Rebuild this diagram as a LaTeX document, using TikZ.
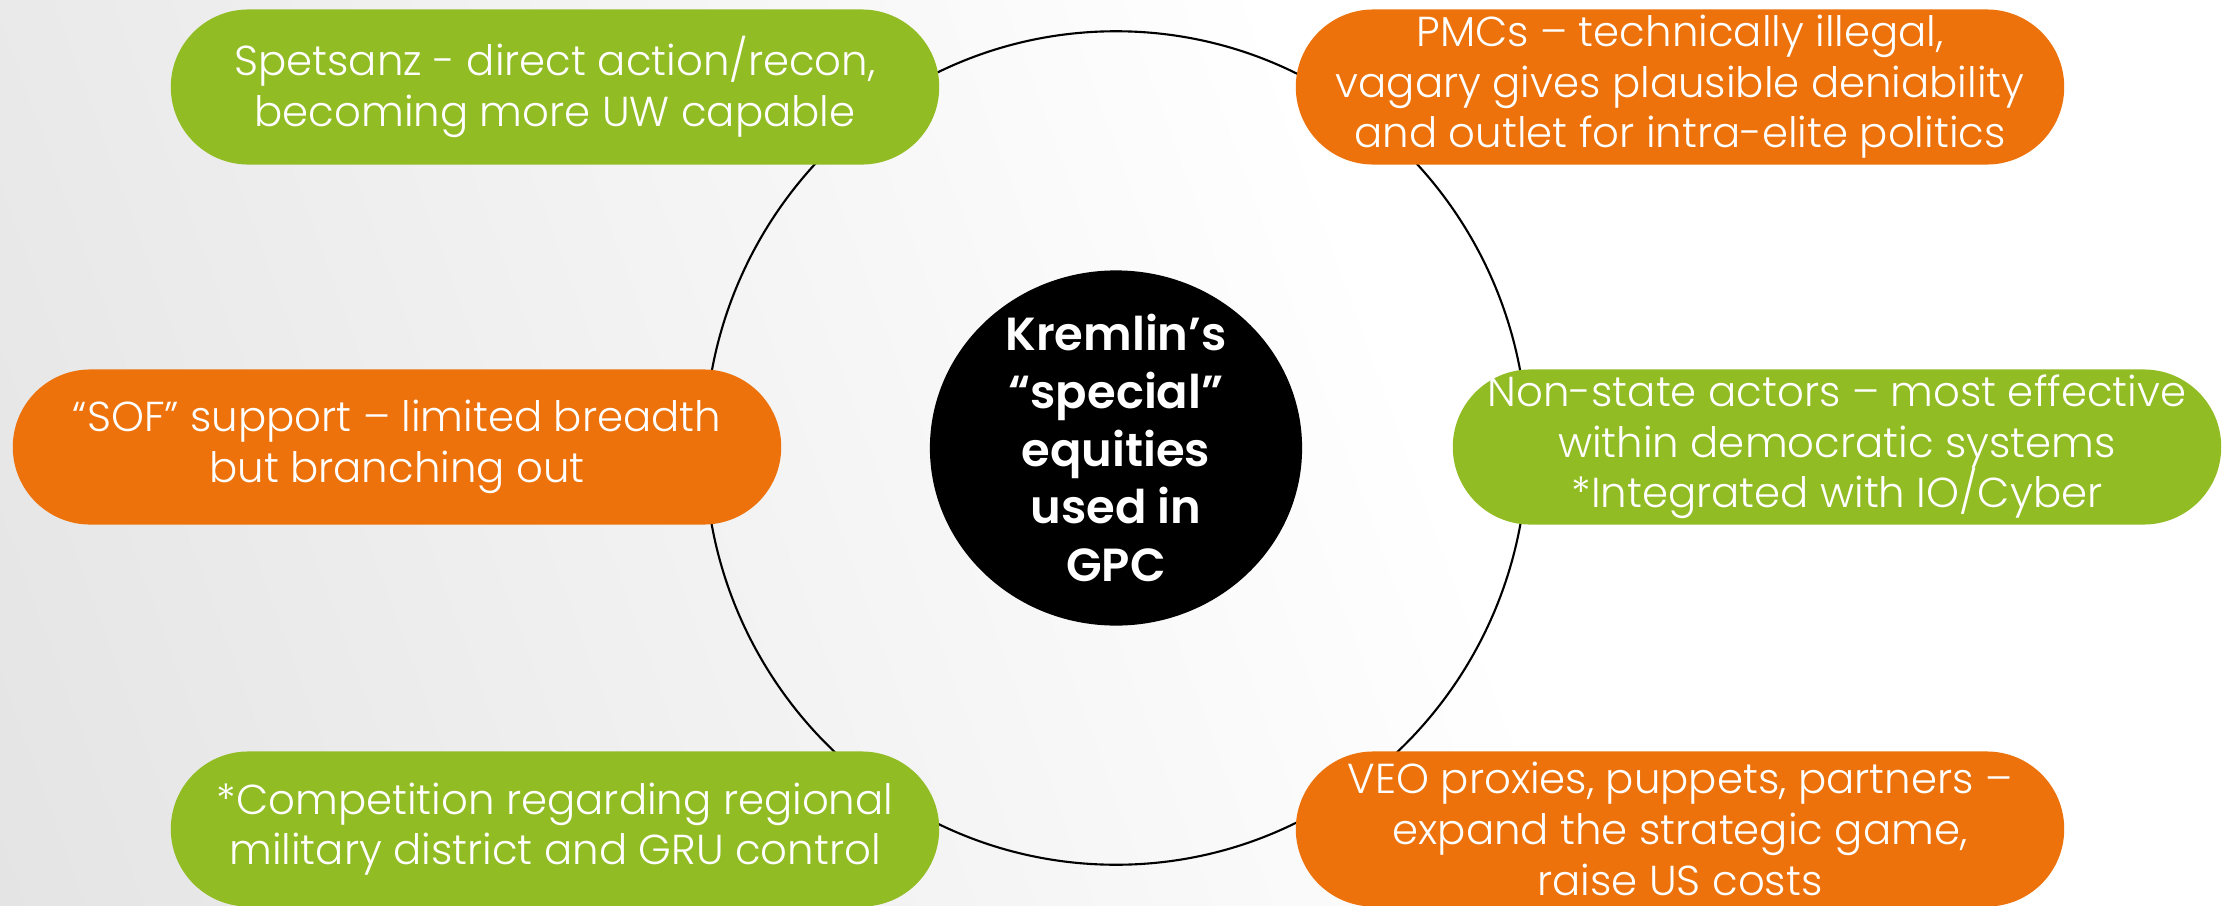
\documentclass[tikz,border=0pt]{standalone}
\usepackage{fontspec}
\setmainfont{Poppins}[UprightFont=* Light, BoldFont=* SemiBold]
\usetikzlibrary{shapes.geometric}
\definecolor{leafgreen}{RGB}{146,188,36}
\definecolor{rustorange}{RGB}{237,114,11}
\definecolor{mistgrey}{RGB}{212,212,212}
\begin{document}
\begin{tikzpicture}[x=0.01cm, y=-0.01cm,
    pill/.style={rectangle, rounded corners=0.775cm, minimum width=7.68cm,
      minimum height=1.55cm, inner sep=0pt, text=white, align=center,
      font=\fontsize{11.9}{14.4}\selectfont},
    greenpill/.style={pill, fill=leafgreen},
    orangepill/.style={pill, fill=rustorange},
    ring/.style={ellipse, draw, semithick, minimum width=8.22cm, minimum height=8.33cm},
    disc/.style={ellipse, fill=black, minimum width=3.72cm, minimum height=3.55cm},
    disctext/.style={text=white, align=center, inner sep=0pt,
      font=\bfseries\fontsize{13.2}{16.4}\selectfont}]
  \useasboundingbox (0,0) rectangle (2233,906);
  \begin{scope}
    \clip (0,0) rectangle (2233,906);
    \fill[white] (0,0) rectangle (2233,906);
    \shade[left color=mistgrey, right color=white,
      transform canvas={rotate around={20:(1116,453)}}] (-984,-1100) rectangle (1416,2000);
  \end{scope}

  \node[ring] (circuit) at (1116,448) {};
  \node[disc] (kremlin) at (1116,448) {};
  \node[disctext] (kremlinlabel) at (kremlin) {Kremlin’s\\“special”\\equities\\used in\\GPC};

  \node[greenpill] (spetsnaz) at (555,87) {Spetsanz - direct action/recon,\\becoming more UW capable};
  \node[orangepill] (pmc) at (1680,87) {PMCs – technically illegal,\\vagary gives plausible deniability\\and outlet for intra-elite politics};
  \node[orangepill] (sof) at (397,447) {“SOF” support – limited breadth\\but branching out};
  \node[greenpill] (nonstate) at (1837,447) {Non-state actors – most effective\\within democratic systems\\*Integrated with IO/Cyber};
  \node[greenpill] (competition) at (555,829) {*Competition regarding regional\\military district and GRU control};
  \node[orangepill] (veo) at (1680,829) {VEO proxies, puppets, partners –\\expand the strategic game,\\raise US costs};
\end{tikzpicture}
\end{document}
